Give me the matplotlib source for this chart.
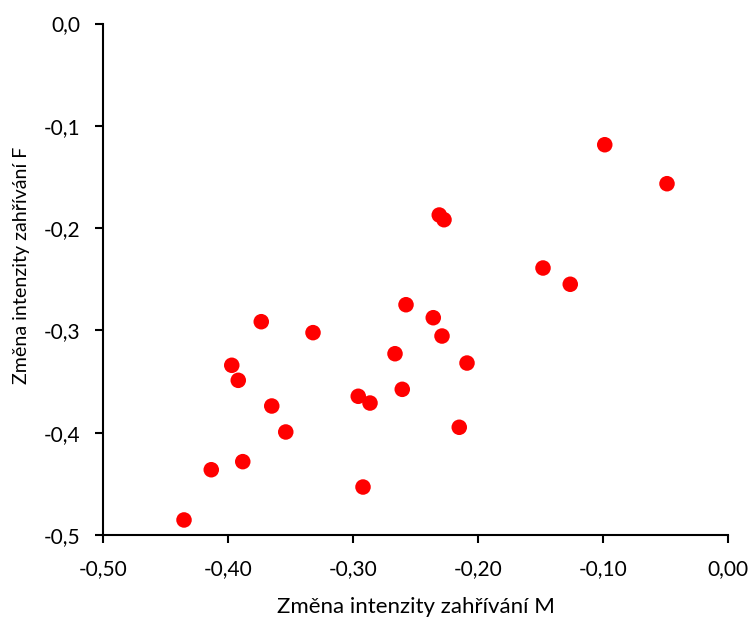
import matplotlib
matplotlib.use("Agg")
import matplotlib.pyplot as plt
from matplotlib.ticker import FuncFormatter, MultipleLocator

# hodnoty
change_m = [
    -0.0986, -0.0488, -0.2310, -0.2272, -0.1480, -0.1262, -0.2576, -0.2358,
    -0.2288, -0.3734, -0.3320, -0.2664, -0.2088, -0.3970, -0.3918, -0.2606,
    -0.2958, -0.2864, -0.3650, -0.3538, -0.2150, -0.4134, -0.3882, -0.2920,
    -0.4352,
]
change_f = [
    -0.1185, -0.1566, -0.1872, -0.1918, -0.2390, -0.2549, -0.2749, -0.2876,
    -0.3055, -0.2915, -0.3022, -0.3228, -0.3319, -0.3341, -0.3488, -0.3576,
    -0.3644, -0.3710, -0.3739, -0.3993, -0.3947, -0.4362, -0.4283, -0.4531,
    -0.4853,
]

X_LABEL = "Změna intenzity zahřívání M"
Y_LABEL = "Změna intenzity zahřívání F"

plt.rcParams["font.family"] = ["Lato", "DejaVu Sans"]

fig = plt.figure(figsize=(7.53, 6.17), dpi=100)
ax = fig.add_axes([0.1368, 0.1329, 0.83, 0.829])

ax.scatter(change_m, change_f, s=125, color="#ff0000", edgecolors="none", zorder=3)

ax.set_xlim(-0.5, 0.0)
ax.set_ylim(-0.5, 0.0)
ax.xaxis.set_major_locator(MultipleLocator(0.1))
ax.yaxis.set_major_locator(MultipleLocator(0.1))
ax.xaxis.set_major_formatter(FuncFormatter(lambda v, p: f"{v:.2f}".replace(".", ",")))
ax.yaxis.set_major_formatter(FuncFormatter(lambda v, p: f"{v:.1f}".replace(".", ",")))

for side in ("top", "right"):
    ax.spines[side].set_visible(False)
for side in ("left", "bottom"):
    ax.spines[side].set_linewidth(1.5)
    ax.spines[side].set_color("black")

ax.tick_params(direction="out", length=6, width=1.5, labelsize=15)
ax.tick_params(axis="x", pad=11)
ax.tick_params(axis="y", pad=10)

ax.set_xlabel(X_LABEL, fontsize=16, labelpad=13)
ax.set_ylabel(Y_LABEL, fontsize=14.1, labelpad=10)
ax.yaxis.label.set_y(0.528)

fig.savefig("out.png", dpi=100)
